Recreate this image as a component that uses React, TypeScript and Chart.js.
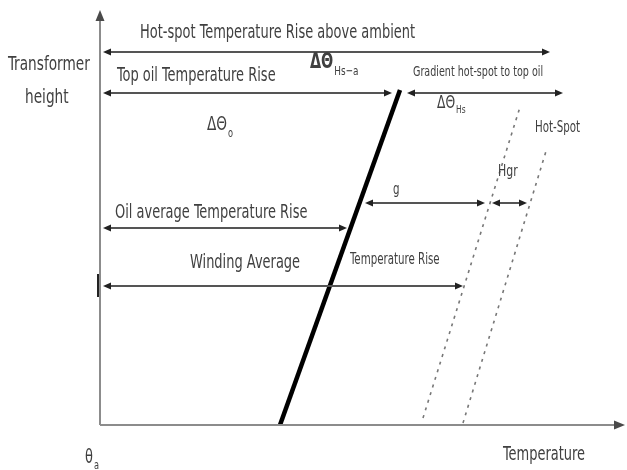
import React, { useEffect, useRef } from "react";
import { Chart, registerables } from "chart.js";

Chart.register(...registerables);

// Temperature (x) and transformer height (y) in arbitrary units.
const oilTempX = [36, 60];
const oilHeightY = [0, 67];
const windingTempX = [64.6, 84];
const windingHeightY = [1.4, 63.6];
const hotSpotTempX = [72.6, 89.4];
const hotSpotHeightY = [0.4, 55.4];

// Dimension arrows: start, end and the height at which each is drawn.
const arrowFrom = [0.6, 0.6, 61.4, 53, 78.4, 0.6, 0.6];
const arrowTo = [90, 58.4, 92.6, 77, 85.4, 49.4, 72.6];
const arrowLevel = [74.6, 66.4, 66.4, 44.4, 44.4, 39.4, 27.8];

const FONT = '"DejaVu Sans Condensed", "Liberation Sans Narrow", sans-serif';
const INK = "#404040";
const SQUEEZE = 0.76; // narrow, tall lettering

type Label = { text: string; sub?: string; x: number; y: number; size: number; subSize?: number; bold?: boolean };

const labels: Label[] = [
  { text: "Hot-spot Temperature Rise above ambient", x: 8, y: 78.4, size: 19 },
  { text: "ΔΘ", sub: "Hs−a", x: 42, y: 72.4, size: 21, subSize: 13, bold: true },
  { text: "Top oil Temperature Rise", x: 3.4, y: 69.8, size: 19 },
  { text: "ΔΘ", sub: "o", x: 21.4, y: 60, size: 20, subSize: 12 },
  { text: "Gradient hot-spot to top oil", x: 62.6, y: 70.6, size: 14 },
  { text: "ΔΘ", sub: "Hs", x: 67.4, y: 64.4, size: 18, subSize: 11 },
  { text: "Hot-Spot", x: 87, y: 59.4, size: 15 },
  { text: "g", x: 58.6, y: 47, size: 15 },
  { text: "Hgr", x: 79.6, y: 50.6, size: 16 },
  { text: "Oil average Temperature Rise", x: 3, y: 42.4, size: 19 },
  { text: "Winding Average", x: 18, y: 32.4, size: 19 },
  { text: "Temperature Rise", x: 50, y: 33, size: 15 },
  { text: "Transformer", x: -18.4, y: 72, size: 20 },
  { text: "height", x: -15, y: 65.4, size: 20 },
  { text: "θ", sub: "a", x: -3, y: -6.6, size: 19, subSize: 12 },
  { text: "Temperature", x: 80.6, y: -6, size: 19 },
];

function arrowHead(ctx: CanvasRenderingContext2D, x: number, y: number, dir: number, len = 8, half = 3.5) {
  ctx.beginPath();
  ctx.moveTo(x, y);
  ctx.lineTo(x - dir * len, y - half);
  ctx.lineTo(x - dir * len, y + half);
  ctx.closePath();
  ctx.fill();
}

function squeezedText(ctx: CanvasRenderingContext2D, text: string, x: number, y: number) {
  ctx.save();
  ctx.translate(x, y);
  ctx.scale(SQUEEZE, 1);
  ctx.fillText(text, 0, 0);
  ctx.restore();
  return ctx.measureText(text).width * SQUEEZE;
}

const diagramPlugin = {
  id: "diagram",
  afterDraw(chart: Chart) {
    const ctx = chart.ctx;
    const xs = chart.scales.x;
    const ys = chart.scales.y;
    const { left, top, right, bottom } = chart.chartArea;
    ctx.save();

    // axes with arrowheads
    ctx.strokeStyle = "#8c8c8c";
    ctx.fillStyle = "#4a4a4a";
    ctx.lineWidth = 2;
    ctx.beginPath();
    ctx.moveTo(left, bottom);
    ctx.lineTo(left, top + 6);
    ctx.moveTo(left, bottom);
    ctx.lineTo(right - 6, bottom);
    ctx.stroke();
    ctx.beginPath();
    ctx.moveTo(left, top);
    ctx.lineTo(left - 4.5, top + 11);
    ctx.lineTo(left + 4.5, top + 11);
    ctx.closePath();
    ctx.fill();
    arrowHead(ctx, right, bottom, 1, 11, 4.5);

    // dimension arrows
    ctx.strokeStyle = "#555";
    ctx.fillStyle = "#222";
    ctx.lineWidth = 2;
    for (let i = 0; i < arrowFrom.length; i++) {
      const x1 = xs.getPixelForValue(arrowFrom[i]);
      const x2 = xs.getPixelForValue(arrowTo[i]);
      const y = ys.getPixelForValue(arrowLevel[i]);
      ctx.beginPath();
      ctx.moveTo(x1 + 4, y);
      ctx.lineTo(x2 - 4, y);
      ctx.stroke();
      arrowHead(ctx, x1, y, -1);
      arrowHead(ctx, x2, y, 1);
    }

    // end stop of the winding-average arrow on the height axis
    const wy = ys.getPixelForValue(arrowLevel[6]);
    ctx.strokeStyle = "#222";
    ctx.lineWidth = 2;
    ctx.beginPath();
    ctx.moveTo(left - 2, wy - 12);
    ctx.lineTo(left - 2, wy + 11);
    ctx.stroke();

    // text
    ctx.fillStyle = INK;
    ctx.textBaseline = "middle";
    ctx.textAlign = "left";
    for (const l of labels) {
      const px = xs.getPixelForValue(l.x);
      const py = ys.getPixelForValue(l.y);
      ctx.font = `${l.bold ? "bold " : ""}${l.size}px ${FONT}`;
      const w = squeezedText(ctx, l.text, px, py);
      if (l.sub) {
        ctx.font = `${l.subSize}px ${FONT}`;
        squeezedText(ctx, l.sub, px + w + 1, py + l.size * 0.42);
      }
    }
    ctx.restore();
  },
};

export default function App() {
  const ref = useRef<HTMLCanvasElement>(null);
  useEffect(() => {
    if (!ref.current) return;
    const toPts = (xs: number[], ys: number[]) => xs.map((x, i) => ({ x, y: ys[i] }));
    const chart = new Chart(ref.current, {
      type: "scatter",
      data: {
        datasets: [
          {
            data: toPts(oilTempX, oilHeightY),
            showLine: true,
            borderColor: "#000",
            borderWidth: 4.5,
            pointRadius: 0,
          },
          {
            data: toPts(windingTempX, windingHeightY),
            showLine: true,
            borderColor: "#777",
            borderWidth: 1.6,
            borderDash: [3, 5],
            pointRadius: 0,
          },
          {
            data: toPts(hotSpotTempX, hotSpotHeightY),
            showLine: true,
            borderColor: "#777",
            borderWidth: 1.6,
            borderDash: [3, 5],
            pointRadius: 0,
          },
        ],
      },
      options: {
        animation: false,
        responsive: true,
        maintainAspectRatio: false,
        layout: { padding: { left: 100, top: 10, right: 2, bottom: 45 } },
        scales: {
          x: { type: "linear", min: 0, max: 105, display: false },
          y: { type: "linear", min: 0, max: 83, display: false },
        },
        plugins: { legend: { display: false }, tooltip: { enabled: false } },
      },
      plugins: [diagramPlugin],
    });
    return () => chart.destroy();
  }, []);
  return (
    <div style={{ position: "fixed", left: 0, top: 0, width: 627, height: 470, background: "#fff" }}>
      <canvas ref={ref} />
    </div>
  );
}
